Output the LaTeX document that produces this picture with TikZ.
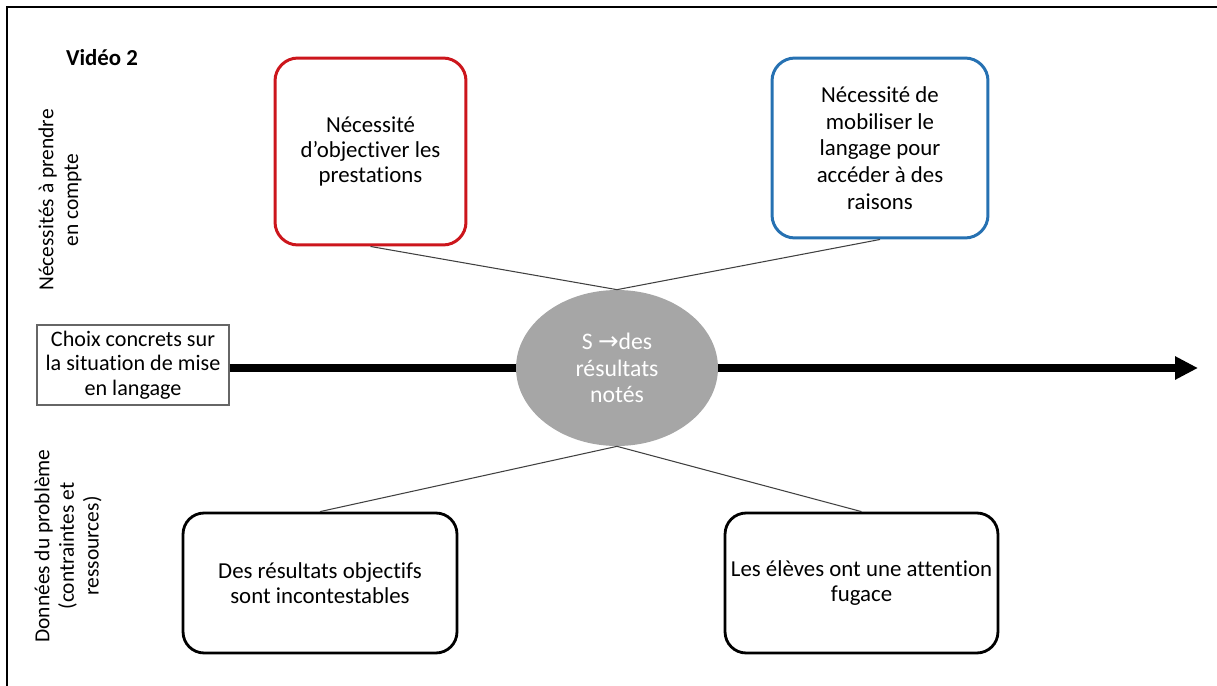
\documentclass[tikz,border=0pt]{standalone}
\usepackage{fontspec}
\setmainfont{Carlito}[Ligatures=NoCommon]
\newfontfamily\arrowfont{DejaVu Sans}
\definecolor{needred}{RGB}{204, 22, 28}
\definecolor{needblue}{RGB}{38, 113, 178}
\definecolor{sitgray}{RGB}{166, 166, 166}
\usetikzlibrary{shapes.geometric, arrows.meta, positioning}

\begin{document}
\begin{tikzpicture}[
  x=0.02cm, y=-0.02cm,
  every node/.style={font=\fontsize{13}{14}\selectfont},
  needbox/.style={draw, rounded corners=13pt, line width=1.7pt, align=center, inner sep=4pt},
  databox/.style={draw=black, rounded corners=12pt, line width=1.6pt, align=center, minimum height=2.8cm},
  link/.style={draw=black!75, line width=0.6pt},
  axis/.style={line width=4pt}
]
  \useasboundingbox (0,0) rectangle (1217,686);
  % frame
  \draw[line width=1.2pt] (7,686) -- (7,7) -- (1217,7);

  \node[font=\fontsize{13}{14}\selectfont\bfseries] (title) at (102,58) {Vidéo 2};

  % side labels
  \node[rotate=90, align=center, font=\fontsize{12.2}{14}\selectfont] (needlbl) at (60,200) {Nécessités à prendre\\en compte};
  \node[rotate=90, align=center, font=\fontsize{12.2}{14}\selectfont] (datalbl) at (68,546) {Données du problème\\(contraintes et\\ressources)};

  % needs
  \node[needbox, draw=needred, minimum width=3.82cm, minimum height=3.74cm] (objectiver) at (370.5,151.5) {Nécessité\\d’objectiver les\\prestations};
  \node[needbox, draw=needblue, minimum width=4.32cm, minimum height=3.6cm, font=\fontsize{13}{15.2}\selectfont] (langage) at (880,148) {Nécessité de\\mobiliser le\\langage pour\\accéder à des\\raisons};

  % situation
  \node[ellipse, fill=sitgray, text=white, minimum width=4.04cm, minimum height=3.12cm, align=center, font=\fontsize{13.5}{15.2}\selectfont] (sit) at (617,368) {S {\arrowfont\fontsize{14}{15}\selectfont →}des\\résultats\\notés};
  \node[draw=black!60, line width=0.6pt, minimum width=3.84cm, minimum height=1.6cm, align=center, inner sep=2pt, font=\fontsize{12.6}{14}\selectfont] (choix) at (133,365) {Choix concrets sur\\la situation de mise\\en langage};
  \coordinate (axisend) at (1198,368);

  % data
  \node[databox, minimum width=5.48cm] (objectifs) at (320,583) {Des résultats objectifs\\sont incontestables};
  \node[databox, minimum width=5.38cm] (attention) at (861.5,583) {Les élèves ont une attention\\fugace};

  % connectors
  \draw[link] (objectiver.south) -- (sit.north);
  \draw[link] (langage.south) -- (sit.north);
  \draw[link] (sit.south) -- (objectifs.north);
  \draw[link] (sit.south) -- (attention.north);
  \draw[axis] (choix.east |- sit.west) -- (sit.west);
  \draw[axis, -{Triangle[length=0.46cm, width=0.44cm]}] (sit.east) -- (axisend);
\end{tikzpicture}
\end{document}
